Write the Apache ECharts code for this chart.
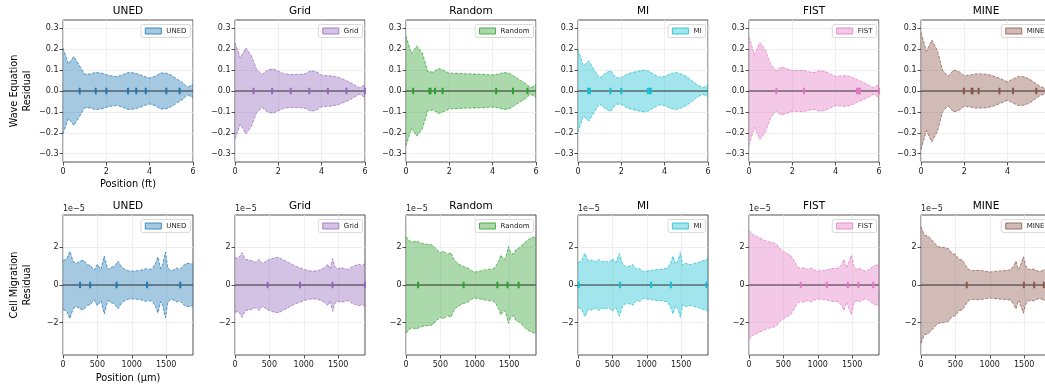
<!DOCTYPE html>
<html>
<head>
<meta charset="utf-8">
<script src="https://cdn.jsdelivr.net/npm/echarts@6/dist/echarts.min.js"></script>
<style>
html,body{margin:0;padding:0;background:#fff;}
#chart{width:1045px;height:385px;}
</style>
</head>
<body>
<div id="chart"></div>
<script>
// ---------------- DATA ----------------
const methods = ['UNED', 'Grid', 'Random', 'MI', 'FIST', 'MINE'];

// Wave equation residual envelope (positions in ft)
const waveX = [0,0.25,0.5,0.75,1,1.25,1.5,1.75,2,2.25,2.5,2.75,3,3.25,3.5,3.75,4,4.25,4.5,4.75,5,5.25,5.5,5.75,6];
const waveUNED   = [0.205,0.130,0.165,0.123,0.080,0.081,0.089,0.086,0.078,0.072,0.068,0.078,0.088,0.087,0.080,0.070,0.062,0.070,0.086,0.086,0.075,0.058,0.042,0.018,0.032];
const waveGrid   = [0.230,0.158,0.206,0.170,0.103,0.079,0.100,0.106,0.095,0.083,0.079,0.079,0.080,0.083,0.097,0.092,0.076,0.073,0.072,0.066,0.056,0.044,0.030,0.015,0.030];
const waveRandom = [0.263,0.179,0.216,0.182,0.094,0.090,0.108,0.098,0.085,0.085,0.084,0.082,0.082,0.081,0.080,0.078,0.077,0.080,0.088,0.086,0.070,0.053,0.037,0.015,0.030];
const waveMI     = [0.198,0.121,0.144,0.100,0.061,0.084,0.098,0.063,0.064,0.080,0.088,0.094,0.100,0.096,0.080,0.066,0.070,0.082,0.089,0.082,0.070,0.050,0.030,0.016,0.028];
const waveFIST   = [0.260,0.174,0.232,0.198,0.127,0.098,0.115,0.106,0.098,0.098,0.099,0.092,0.088,0.097,0.094,0.082,0.070,0.072,0.074,0.066,0.054,0.042,0.030,0.016,0.030];
const waveMINE   = [0.280,0.190,0.244,0.195,0.098,0.071,0.100,0.093,0.073,0.076,0.082,0.082,0.080,0.075,0.066,0.055,0.044,0.058,0.070,0.068,0.058,0.040,0.022,0.012,0.030];

// Wave sensor positions (ft)
const waveSensUNED   = [0.77,1.51,2.0,3.0,3.38,3.82,4.77,5.38];
const waveSensGrid   = [0.857,1.714,2.571,3.429,4.286,5.143,6.0];
const waveSensRandom = [0.33,1.08,1.13,1.34,1.69,4.16,4.94,5.61];
const waveSensMI     = [0.47,0.55,1.5,2.0,3.22,3.3,3.36];
const waveSensFIST   = [1.26,2.54,4.98,5.05,5.12,6.0];
const waveSensMINE   = [1.98,2.34,2.38,2.66,3.62,4.25,5.32];

// Cell migration residual envelope (positions in µm, values in units of 1e-5)
const cellX = [0,50,100,150,200,250,300,350,400,450,500,550,600,650,700,750,800,850,900,950,1000,1050,1100,1150,1200,1250,1300,1350,1380,1420,1450,1490,1520,1560,1600,1650,1700,1750,1800,1850,1890];
const cellUNED   = [1.31,1.36,1.79,1.22,1.15,1.27,1.31,1.08,1.04,0.78,1.10,0.83,1.54,0.83,0.94,1.00,1.26,0.97,0.83,0.76,0.73,0.75,0.76,0.80,0.87,0.83,0.87,1.19,1.49,0.87,1.10,1.75,0.97,0.76,0.78,0.90,0.83,1.04,1.15,1.13,1.12];
const cellGrid   = [1.45,1.40,1.72,1.36,1.33,1.29,1.20,1.36,1.12,1.27,1.36,1.42,1.47,1.45,1.33,1.25,1.15,1.05,0.97,0.90,0.83,0.78,0.74,0.74,0.76,0.82,0.92,1.10,0.83,1.40,1.00,0.85,0.90,0.90,0.86,0.83,0.97,1.04,1.10,1.04,1.15];
const cellRandom = [2.57,2.34,2.28,2.34,2.25,2.19,2.16,2.16,2.07,1.86,1.72,1.80,1.61,1.72,1.33,1.15,1.04,0.97,0.90,0.76,0.69,0.72,0.76,0.80,0.83,0.83,0.94,1.29,1.59,1.33,1.47,2.04,1.72,1.63,1.89,1.98,2.16,2.34,2.46,2.54,2.57];
const cellMI     = [1.19,1.27,1.68,1.27,1.33,1.22,1.36,1.22,1.27,1.19,1.40,1.19,1.66,1.10,0.97,1.00,1.08,0.83,0.87,0.71,0.74,0.77,0.80,0.82,0.83,0.86,0.90,1.19,1.54,1.10,1.27,1.72,1.04,1.15,1.12,1.08,1.15,1.20,1.27,1.33,1.40];
const cellFIST   = [2.90,2.69,2.60,2.51,2.42,2.34,2.28,2.25,2.16,1.93,1.80,1.68,1.60,1.33,0.97,0.87,0.92,0.83,0.90,0.80,0.73,0.76,0.78,0.82,0.87,0.88,0.90,1.10,1.36,0.90,1.20,1.58,1.04,0.83,0.90,0.80,0.73,0.83,1.00,1.05,1.15];
const cellMINE   = [3.10,2.64,2.60,2.42,2.21,2.04,2.00,1.98,1.93,1.68,1.63,1.36,1.33,1.04,0.80,0.76,0.78,0.77,0.76,0.72,0.69,0.71,0.73,0.75,0.76,0.78,0.80,1.04,1.27,0.80,1.10,1.50,1.04,0.83,0.84,0.83,0.73,0.74,0.83,0.85,0.87];

// Cell sensor positions (µm)
const cellSensUNED   = [248,395,779,1222,1705];
const cellSensGrid   = [472.5,945,1417.5,1890];
const cellSensRandom = [176,838,1328,1475,1637];
const cellSensMI     = [10,612,1063,1350,1866];
const cellSensFIST   = [752,1131,1437,1592,1806];
const cellSensMINE   = [665,1495,1646,1786];

// Tick labels
const waveXTicks = [0,2,4,6];
const waveYTicks = [-0.3,-0.2,-0.1,0,0.1,0.2,0.3];
const cellXTicks = [0,500,1000,1500];
const cellYTicks = [-2,0,2];

// ---------------- STYLE / LAYOUT ----------------
const colors = ['#1f77b4','#9467bd','#2ca02c','#17becf','#e377c2','#8c564b'];
const FONT = 'DejaVu Sans';
const W = 1045;
const lefts = [63,235,406,578,749,921];
const PW = 130;
const rows = [
  {top:20, h:142, xs:waveX, vals:[waveUNED,waveGrid,waveRandom,waveMI,waveFIST,waveMINE],
   sens:[waveSensUNED,waveSensGrid,waveSensRandom,waveSensMI,waveSensFIST,waveSensMINE],
   xmin:0, xmax:6, ymin:-0.34, ymax:0.34, xt:waveXTicks, yt:waveYTicks, xsplit:3, ysplit:7,
   yfmt:v=>v.toFixed(1).replace('-','\u2212'), titleY:11.5},
  {top:215, h:140, xs:cellX, vals:[cellUNED,cellGrid,cellRandom,cellMI,cellFIST,cellMINE],
   sens:[cellSensUNED,cellSensGrid,cellSensRandom,cellSensMI,cellSensFIST,cellSensMINE],
   xmin:0, xmax:1890, ymin:-3.72, ymax:3.72, xt:cellXTicks, yt:cellYTicks, xsplit:4, ysplit:3,
   yfmt:v=>String(Math.round(v)).replace('-','\u2212'), titleY:206}
];

function rgba(hex, a){
  const n = parseInt(hex.slice(1),16);
  return 'rgba('+((n>>16)&255)+','+((n>>8)&255)+','+(n&255)+','+a+')';
}

const grid=[], xAxis=[], yAxis=[], series=[], legend=[], graphic=[];
rows.forEach((row, r)=>{
  methods.forEach((m, c)=>{
    const i = r*6+c;
    const col = colors[c];
    grid.push({left:lefts[c], top:row.top, width:PW, height:row.h, show:true,
      borderColor:'#262626', borderWidth:0.8, backgroundColor:'transparent', containLabel:false, outerBoundsMode:'none'});
    xAxis.push({type:'value', gridIndex:i, min:row.xmin, max:row.xmax, splitNumber:row.xsplit,
      axisLine:{show:false, onZero:false},
      axisTick:{show:true, inside:false, length:3.5, customValues:row.xt, lineStyle:{color:'#262626', width:0.8}},
      axisLabel:{show:true, customValues:row.xt, margin:5.5, fontSize:8, fontFamily:FONT, color:'#1a1a1a',
        formatter:v=>String(v)},
      splitLine:{show:true, lineStyle:{color:'#ebebeb', width:0.8}}});
    yAxis.push({type:'value', gridIndex:i, min:row.ymin, max:row.ymax, splitNumber:row.ysplit,
      axisLine:{show:false, onZero:false},
      axisTick:{show:true, inside:false, length:3.5, customValues:row.yt, lineStyle:{color:'#262626', width:0.8}},
      axisLabel:{show:true, customValues:row.yt, margin:4.5, fontSize:8, fontFamily:FONT, color:'#1a1a1a',
        formatter:row.yfmt},
      splitLine:{show:true, lineStyle:{color:'#ebebeb', width:0.8}}});
    const vals = row.vals[c];
    const edge = {color:col, width:0.8, type:[3,1.5], opacity:0.9};
    series.push({type:'line', name:m, xAxisIndex:i, yAxisIndex:i, symbol:'none', silent:true,
      data: row.xs.map((x,k)=>[x, vals[k]]), lineStyle:edge, areaStyle:{color:rgba(col,0.4), opacity:1}, z:2});
    series.push({type:'line', name:m+' lower', xAxisIndex:i, yAxisIndex:i, symbol:'none', silent:true,
      data: row.xs.map((x,k)=>[x, -vals[k]]), lineStyle:edge, areaStyle:{color:rgba(col,0.4), opacity:1}, z:2});
    series.push({type:'line', name:m+' zero', xAxisIndex:i, yAxisIndex:i, symbol:'none', silent:true,
      data:[[row.xmin,0],[row.xmax,0]], lineStyle:{color:'#1a1a1a', width:1.2, opacity:0.85}, z:3});
    series.push({type:'scatter', name:m+' sensors', xAxisIndex:i, yAxisIndex:i, silent:true,
      symbol:'rect', symbolSize:[2,6.5], data: row.sens[c].map(p=>[p,0]),
      itemStyle:{color:col, opacity:1}, z:4, clip:false});
    legend.push({show:true, selectedMode:false, orient:'horizontal',
      right: W - (lefts[c] + PW - 2.5), top: row.top + 4.5,
      data:[{name:m, itemStyle:{color:rgba(col,0.4), borderColor:col, borderWidth:0.8}}],
      icon:'rect', itemWidth:16, itemHeight:6, itemGap:4,
      padding:[3,4,3,4], backgroundColor:'rgba(255,255,255,0.85)',
      borderColor:'#d0d0d0', borderWidth:0.8, borderRadius:2,
      textStyle:{fontSize:7, fontFamily:FONT, color:'#222', padding:[0,0,0,0]}});
    graphic.push({type:'text', x:lefts[c]+PW/2, y:row.titleY, silent:true,
      style:{text:m, font:'10.5px "'+FONT+'"', fill:'#000', textAlign:'center', textVerticalAlign:'middle'}});
  });
});

// axis names, y labels, offset text
graphic.push({type:'text', x:lefts[0]+PW/2, y:184, silent:true,
  style:{text:'Position (ft)', font:'9.8px "'+FONT+'"', fill:'#000', textAlign:'center', textVerticalAlign:'middle'}});
graphic.push({type:'text', x:lefts[0]+PW/2, y:378.5, silent:true,
  style:{text:'Position (\u03bcm)', font:'9.8px "'+FONT+'"', fill:'#000', textAlign:'center', textVerticalAlign:'middle'}});
graphic.push({type:'text', x:14.5, y:91, rotation:Math.PI/2, silent:true,
  style:{text:'Wave Equation', font:'9.7px "'+FONT+'"', fill:'#000', textAlign:'center', textVerticalAlign:'middle'}});
graphic.push({type:'text', x:27, y:91, rotation:Math.PI/2, silent:true,
  style:{text:'Residual', font:'9.7px "'+FONT+'"', fill:'#000', textAlign:'center', textVerticalAlign:'middle'}});
graphic.push({type:'text', x:14.5, y:285, rotation:Math.PI/2, silent:true,
  style:{text:'Cell Migration', font:'9.7px "'+FONT+'"', fill:'#000', textAlign:'center', textVerticalAlign:'middle'}});
graphic.push({type:'text', x:27, y:285, rotation:Math.PI/2, silent:true,
  style:{text:'Residual', font:'9.7px "'+FONT+'"', fill:'#000', textAlign:'center', textVerticalAlign:'middle'}});
lefts.forEach(l=>{
  graphic.push({type:'text', x:l, y:209, silent:true,
    style:{text:'1e\u22125', font:'8px "'+FONT+'"', fill:'#222', textAlign:'left', textVerticalAlign:'middle'}});
});

const chart = echarts.init(document.getElementById('chart'), null, {renderer:'canvas'});
chart.setOption({animation:false, backgroundColor:'#fff', grid, xAxis, yAxis, series, legend, graphic,
  tooltip:{show:false}});
</script>
</body>
</html>
